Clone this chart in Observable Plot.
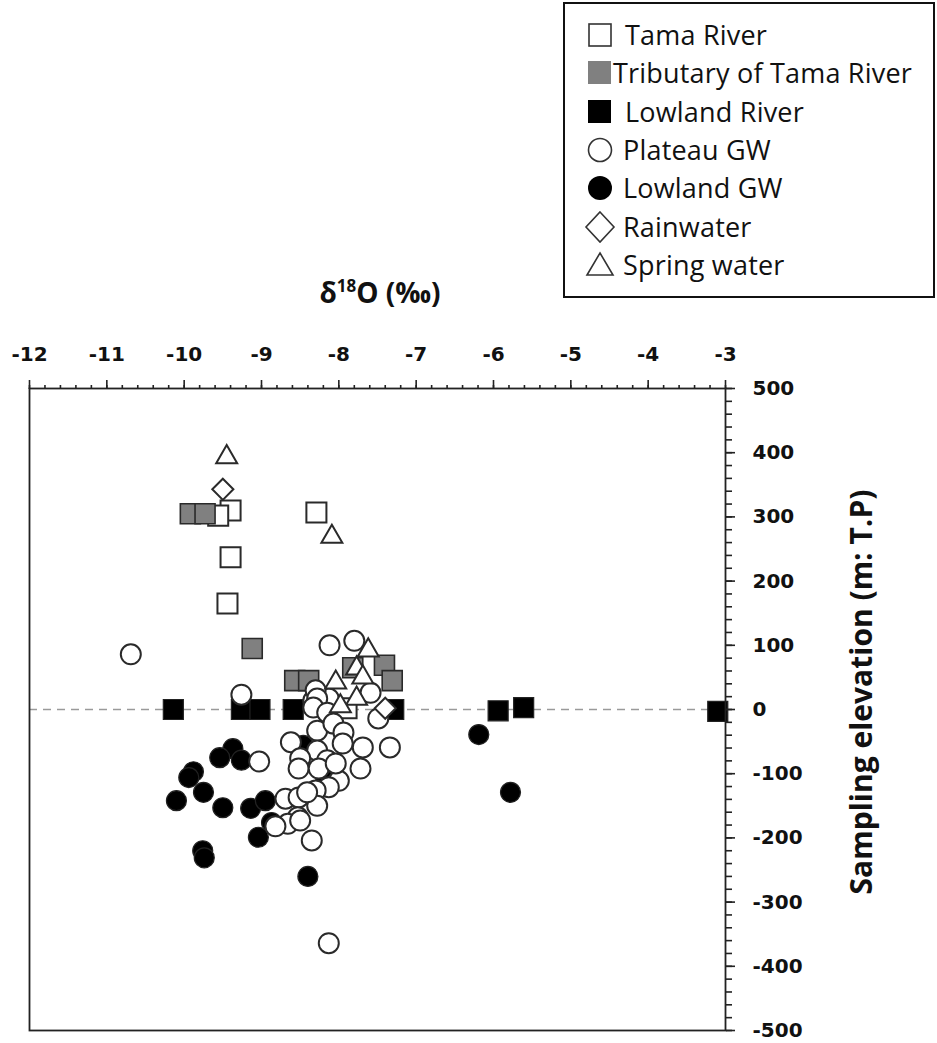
<!DOCTYPE html>
<html>
<head>
<meta charset="utf-8">
<script src="https://cdn.jsdelivr.net/npm/d3@7"></script>
<script src="https://cdn.jsdelivr.net/npm/@observablehq/plot@0.6"></script>
<style>
  body { margin: 0; background: #fff; }
  #wrap { position: relative; width: 937px; height: 1043px; overflow: hidden; }
  #chart { position: absolute; left: 0; top: 0; }
  #legend { position: absolute; left: 563px; top: 2px; width: 368px; height: 292px; border: 2px solid #111; background: #fff; font-family: "Open Sans", sans-serif; font-size: 27px; color: #111; }
  .row { position: absolute; left: 0; height: 36px; width: 368px; }
  .row svg { position: absolute; left: 18px; top: 0; }
  .row span { position: absolute; top: 50%; transform: translateY(-52%); white-space: nowrap; letter-spacing: 0.2px; }
  #title { position: absolute; left: 380px; top: 292px; transform: translate(-50%, -50%); font-family: "Open Sans", sans-serif; font-weight: 700; font-size: 28px; white-space: nowrap; color: #111; }
  #title sup { font-size: 17px; vertical-align: 11px; line-height: 0; }
  #ylab { position: absolute; left: 860px; top: 692px; transform: translate(-50%, -50%) rotate(-90deg); font-family: "Open Sans", sans-serif; font-weight: 700; font-size: 30px; white-space: nowrap; color: #111; }
</style>
</head>
<body>
<div id="wrap">
  <div id="chart"></div>
  <div id="title">δ<sup>18</sup>O (‰)</div>
  <div id="ylab">Sampling elevation (m: T.P)</div>
  <div id="legend"></div>
</div>
<script>
// ---- data (δ18O in ‰, sampling elevation in m T.P.) ----
const seriesNames = ["Tama River", "Tributary of Tama River", "Lowland River", "Plateau GW", "Lowland GW", "Rainwater", "Spring water"];

const tamaX = [-9.40, -9.40, -9.44, -8.29, -9.56, -7.90];
const tamaY = [310, 237, 165, 307, 302, 2];

const tributaryX = [-9.92, -9.73, -9.12, -8.57, -8.39, -7.82, -7.41, -7.31];
const tributaryY = [305, 305, 95, 45, 45, 65, 69, 45];

const lowlandRiverX = [-10.14, -9.26, -9.02, -8.59, -7.29, -5.94, -5.61, -3.10];
const lowlandRiverY = [0, 0, 0, 0, 0, -2, 3, -3];

const plateauX = [-10.69, -9.26, -9.03, -8.12, -7.80, -8.35, -8.13, -7.49, -7.34, -7.72,
                  -8.33, -8.13, -8.30, -8.28, -7.59, -8.33, -8.15, -8.62, -8.28, -8.07,
                  -7.94, -7.95, -7.69, -8.28, -8.50, -8.15, -8.52, -8.26, -8.00, -8.13,
                  -8.30, -8.69, -8.52, -8.28, -8.53, -8.66, -8.04, -8.41, -8.50, -8.82];
const plateauY = [86, 23, -81, 100, 107, -204, -364, -14, -59, -92,
                  14, 17, 30, 17, 26, 3, -5, -51, -33, -22,
                  -36, -53, -59, -64, -76, -79, -92, -92, -111, -121,
                  -126, -139, -137, -150, -168, -178, -84, -129, -173, -182];

const lowlandGWX = [-9.37, -9.54, -9.26, -9.88, -9.94, -9.75, -10.10, -9.50, -9.14, -8.95,
                    -8.87, -9.04, -9.76, -9.74, -8.40, -6.19, -5.78, -8.46, -8.17];
const lowlandGWY = [-61, -75, -79, -97, -106, -129, -142, -153, -154, -142,
                    -176, -199, -220, -231, -260, -39, -129, -56, -107];

const rainX = [-9.50, -7.40];
const rainY = [343, 2];

const springX = [-9.45, -8.09, -7.62, -7.77, -7.69, -8.04, -7.77, -7.98];
const springY = [393, 269, 92, 64, 50, 42, 17, 5];

const xTicks = [-12, -11, -10, -9, -8, -7, -6, -5, -4, -3];
const yTicks = [500, 400, 300, 200, 100, 0, -100, -200, -300, -400, -500];

const pts = (xs, ys) => xs.map((x, i) => ({x, y: ys[i]}));

const ink = "#2a2a2a";
const chart = Plot.plot({
  width: 937,
  height: 1043,
  marginTop: 388,
  marginBottom: 13,
  marginLeft: 29,
  marginRight: 212,
  style: {fontFamily: "DejaVu Sans", background: "transparent", color: "#111"},
  x: {domain: [-12, -3]},
  y: {domain: [-500, 500]},
  marks: [
    Plot.ruleY([0], {stroke: "#9a9a9a", strokeWidth: 1.6, strokeDasharray: "8,6"}),
    Plot.dot(pts(lowlandRiverX, lowlandRiverY), {x: "x", y: "y", symbol: "square", r: 11.3, fill: "#000", stroke: "#222", strokeWidth: 1.2}),
    Plot.dot(pts(lowlandGWX, lowlandGWY), {x: "x", y: "y", symbol: "circle", r: 10, fill: "#000", stroke: "#222", strokeWidth: 1.2}),
    Plot.dot(pts(tamaX, tamaY), {x: "x", y: "y", symbol: "square", r: 11.3, fill: "#fff", stroke: ink, strokeWidth: 2}),
    Plot.dot(pts(tributaryX, tributaryY), {x: "x", y: "y", symbol: "square", r: 11.3, fill: "#808080", stroke: ink, strokeWidth: 1.6}),
    Plot.dot(pts(plateauX, plateauY), {x: "x", y: "y", symbol: "circle", r: 10, fill: "#fff", stroke: ink, strokeWidth: 2}),
    Plot.dot(pts(rainX, rainY), {x: "x", y: "y", symbol: "diamond2", r: 9.5, fill: "#fff", stroke: ink, strokeWidth: 2}),
    Plot.dot(pts(springX, springY), {x: "x", y: "y", symbol: "triangle2", r: 10, fill: "#fff", stroke: ink, strokeWidth: 2}),
    Plot.frame({stroke: "#222", strokeWidth: 1.8}),
    Plot.axisX({anchor: "top", ticks: d3.range(-12, -2.99, 0.2), tickSize: 4, tickFormat: () => "", label: null, stroke: "#222", strokeWidth: 1.6}),
    Plot.axisX({anchor: "top", ticks: xTicks, tickSize: 9, tickPadding: 19, tickFormat: d => String(d), label: null, fontSize: 20, fontWeight: "bold", stroke: "#222", strokeWidth: 1.6}),
    Plot.axisY({anchor: "right", ticks: d3.range(-500, 500.1, 20), tickSize: 6, tickFormat: () => "", label: null, stroke: "#222", strokeWidth: 1.6}),
    Plot.axisY({anchor: "right", ticks: yTicks, tickSize: 9, tickPadding: 18, tickFormat: d => String(d), label: null, fontSize: 20, fontWeight: "bold", stroke: "#222", strokeWidth: 1.6})
  ]
});
document.getElementById("chart").appendChild(chart);

// ---- legend ----
const legendSymbols = [
  `<rect x="6" y="7" width="22" height="22" fill="#fff" stroke="#333" stroke-width="1.6"/>`,
  `<rect x="5" y="6" width="23" height="23" fill="#808080"/>`,
  `<rect x="5" y="6" width="23" height="23" fill="#000"/>`,
  `<circle cx="17" cy="18" r="11.5" fill="#fff" stroke="#333" stroke-width="1.6"/>`,
  `<circle cx="17" cy="18" r="12" fill="#000"/>`,
  `<path d="M17,3 L31,18 L17,33 L3,18 Z" fill="#fff" stroke="#333" stroke-width="1.6"/>`,
  `<path d="M17,6 L30,28 L4,28 Z" fill="#fff" stroke="#333" stroke-width="1.6"/>`
];
const textLeft = [60, 48, 60, 58, 58, 58, 58];
const legend = document.getElementById("legend");
seriesNames.forEach((name, i) => {
  const row = document.createElement("div");
  row.className = "row";
  row.style.top = (13 + i * 38.3) + "px";
  row.innerHTML = `<svg width="36" height="36" viewBox="0 0 36 36">${legendSymbols[i]}</svg><span style="left:${textLeft[i]}px">${name}</span>`;
  legend.appendChild(row);
});
</script>
</body>
</html>
